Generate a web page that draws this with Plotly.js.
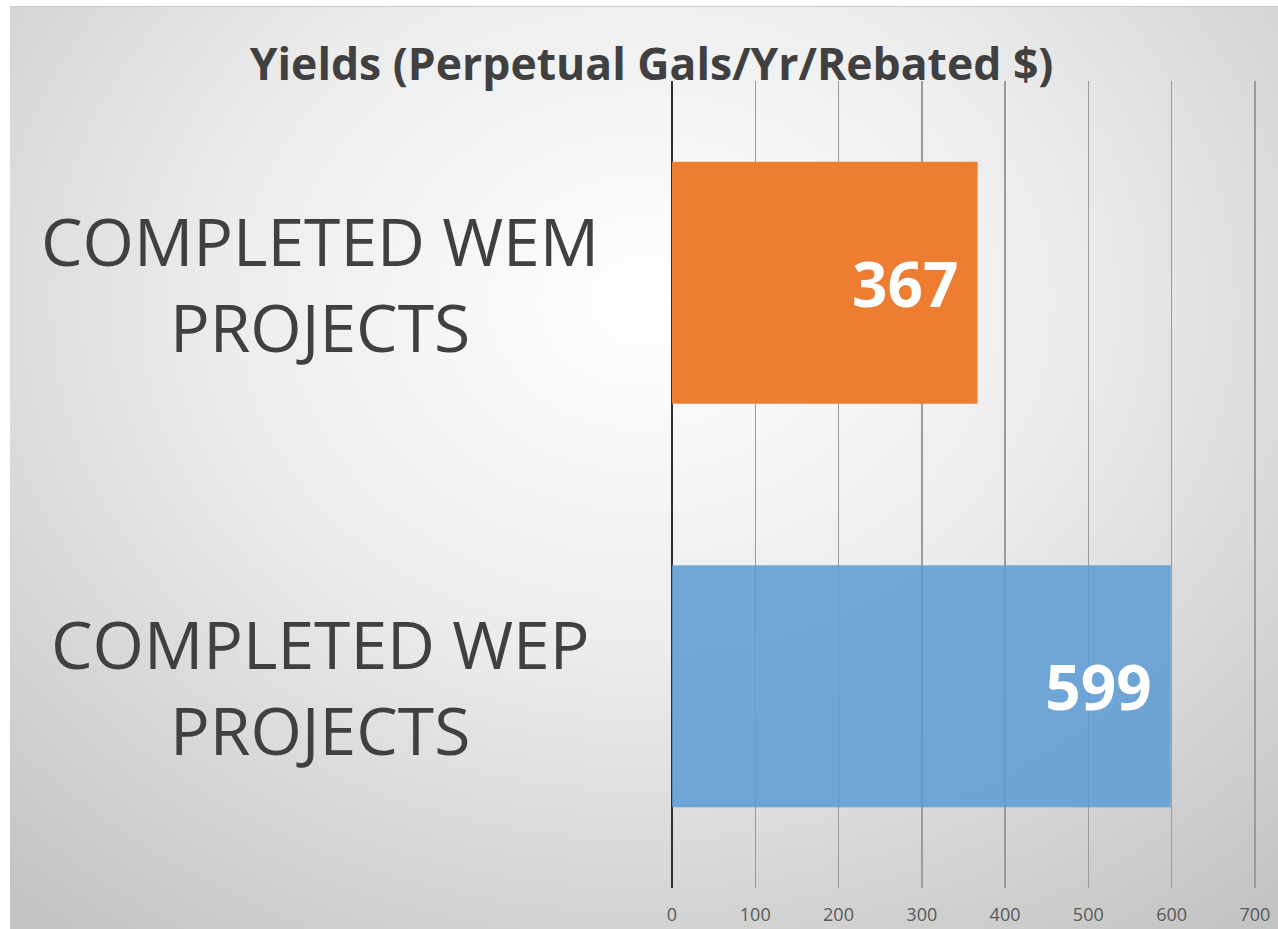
<!DOCTYPE html>
<html>
<head>
<meta charset="utf-8">
<script src="https://cdn.plot.ly/plotly-3.0.1.min.js"></script>
<style>
  html, body { margin: 0; padding: 0; background: #ffffff; }
  #chart {
    position: absolute; left: 10px; top: 6px;
    width: 1268px; height: 923px;
    border-top: 1px solid #c8c8c8;
    background: radial-gradient(ellipse 75% 85% at 50% 32%, #ffffff 0%, #ececec 45%, #c4c4c4 100%);
  }
</style>
</head>
<body>
<div id="chart"></div>
<script>
// Data
const categories = ['COMPLETED WEM PROJECTS', 'COMPLETED WEP PROJECTS'];
const labelLines = ['COMPLETED WEM<br>PROJECTS', 'COMPLETED WEP<br>PROJECTS'];
const yields = [367, 599];
const xTicks = [0, 100, 200, 300, 400, 500, 600, 700];
const barColors = ['#ED7D31', '#5B9BD5'];
const barOpacity = [1, 0.85];

const trace = {
    type: 'bar',
    orientation: 'h',
    y: categories,
    x: yields,
    marker: { color: barColors, opacity: barOpacity },
    text: yields.map(v => v + '\u00a0'),
    textposition: 'inside',
    insidetextanchor: 'end',
    textfont: { family: 'Open Sans', size: 62, color: '#ffffff', weight: 'bold' },
    hoverinfo: 'x+y'
};

// category labels, centred under each other like the original
const catLabels = categories.map((c, i) => ({
    xref: 'paper', yref: 'y',
    x: -0.6, y: c,
    xanchor: 'center', yanchor: 'middle',
    text: labelLines[i],
    showarrow: false,
    align: 'center',
    font: { family: 'Open Sans', size: 66, color: '#404040' }
}));

const layout = {
    width: 1268,
    height: 923,
    paper_bgcolor: 'rgba(0,0,0,0)',
    plot_bgcolor: 'rgba(0,0,0,0)',
    margin: { l: 662, r: 19, t: 74, b: 42 },
    title: {
        text: '<b>Yields (Perpetual Gals/Yr/Rebated $)</b>',
        font: { family: 'Open Sans', size: 44.5, color: '#404040' },
        xref: 'container', x: 0.506, xanchor: 'center',
        yref: 'container', y: 0.938, yanchor: 'middle'
    },
    xaxis: {
        range: [0, 705],
        tickvals: xTicks,
        showgrid: true,
        gridcolor: '#9a9a9a',
        gridwidth: 1.5,
        zeroline: true,
        zerolinecolor: '#2e2e2e',
        zerolinewidth: 2.5,
        showline: false,
        ticks: '',
        ticklabelstandoff: 14,
        tickfont: { family: 'Open Sans', size: 18, color: '#595959' },
        fixedrange: true
    },
    yaxis: {
        autorange: 'reversed',
        showticklabels: false,
        showgrid: false,
        zeroline: false,
        showline: false,
        fixedrange: true
    },
    bargap: 0.4,
    showlegend: false,
    annotations: catLabels
};

Plotly.newPlot('chart', [trace], layout, { displayModeBar: false, staticPlot: true });
</script>
</body>
</html>
